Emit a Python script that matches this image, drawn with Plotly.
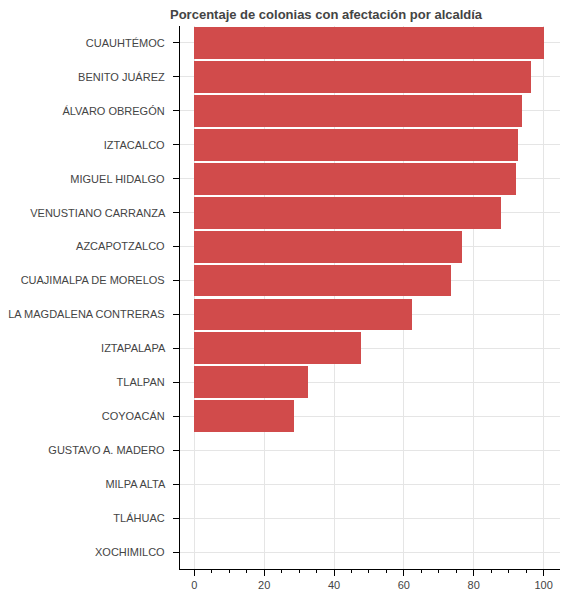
import plotly.graph_objects as go

alcaldias = ["CUAUHTÉMOC", "BENITO JUÁREZ", "ÁLVARO OBREGÓN", "IZTACALCO", "MIGUEL HIDALGO",
             "VENUSTIANO CARRANZA", "AZCAPOTZALCO", "CUAJIMALPA DE MORELOS",
             "LA MAGDALENA CONTRERAS", "IZTAPALAPA", "TLALPAN", "COYOACÁN",
             "GUSTAVO A. MADERO", "MILPA ALTA", "TLÁHUAC", "XOCHIMILCO"]
porcentaje = [100, 96.4, 93.9, 92.8, 92.0, 87.9, 76.6, 73.6, 62.3, 47.7, 32.5, 28.4,
              0, 0, 0, 0]

# page body has an 8px margin, so the figure is sized and offset for that
W, H = 552, 583

fig = go.Figure(go.Bar(
    x=porcentaje, y=alcaldias, orientation="h",
    width=0.94, marker=dict(color="#d14b4b", line=dict(width=0)),
))

fig.update_layout(
    width=W, height=H,
    margin=dict(l=165, r=0, t=18, b=16),
    paper_bgcolor="white", plot_bgcolor="white",
    font=dict(family="Liberation Sans, Arial", size=11, color="#444"),
    title=dict(text="<b>Porcentaje de colonias con afectación por alcaldía</b>",
               x=162 / W, xanchor="left", y=1 - 6 / H, yanchor="middle",
               font=dict(size=13, color="#444")),
    showlegend=False,
    bargap=0,
)
fig.update_xaxes(
    range=[-4.1, 104.7], tickvals=[0, 20, 40, 60, 80, 100],
    showline=True, linecolor="black", linewidth=1,
    ticks="outside", ticklen=6, tickcolor="black",
    minor=dict(dtick=5, tick0=0, ticks="outside", ticklen=3, tickcolor="black", showgrid=False),
    showgrid=True, gridcolor="#e5e5e5", zeroline=False,
)
fig.update_yaxes(
    categoryorder="array", categoryarray=alcaldias[::-1],
    showline=True, linecolor="black", linewidth=1,
    ticks="outside", ticklen=6, tickcolor="black",
    showgrid=True, gridcolor="#e5e5e5", ticksuffix="  ",
)

fig.write_html("out.html")
